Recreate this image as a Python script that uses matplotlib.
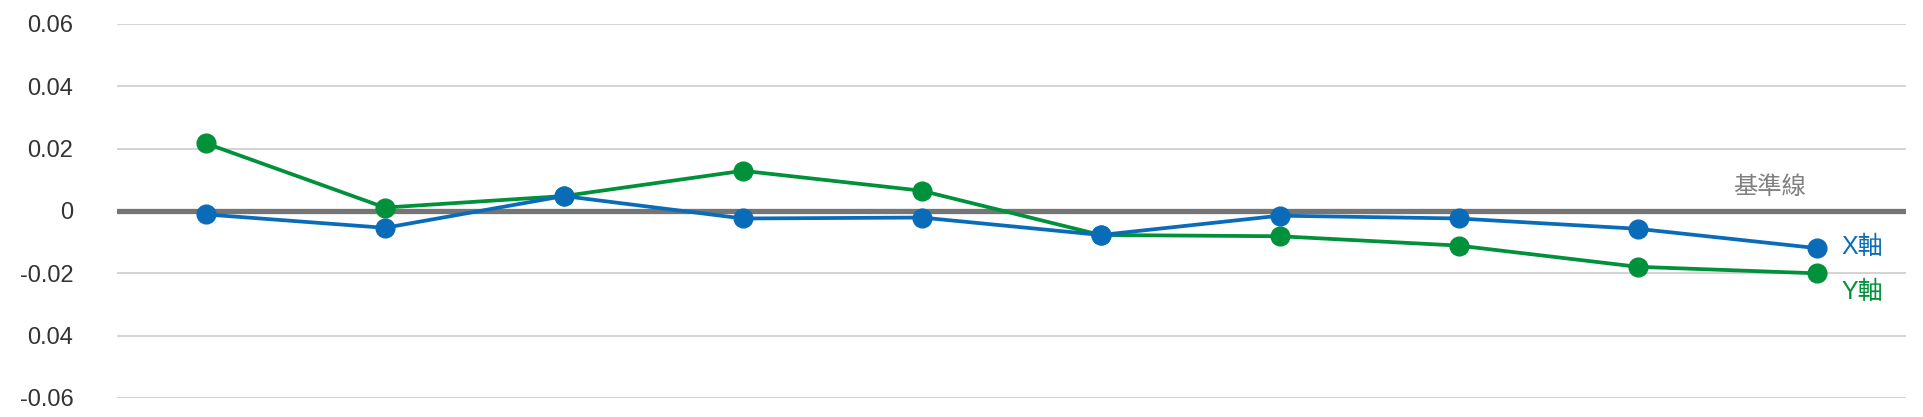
import matplotlib
matplotlib.use("Agg")
import matplotlib.pyplot as plt

plt.rcParams['font.family'] = ['Liberation Sans', 'Noto Sans CJK TC', 'DejaVu Sans']

# --- data ---
categories = list(range(1, 11))
x_axis = [-0.0011, -0.0054, 0.0048, -0.0024, -0.0021, -0.0077, -0.0015, -0.0024, -0.0057, -0.0119]
y_axis = [0.0217, 0.0011, 0.0048, 0.0129, 0.0065, -0.0077, -0.0081, -0.0111, -0.0179, -0.0200]
y_ticks = [0.06, 0.04, 0.02, 0, -0.02, -0.04, -0.06]
y_tick_labels = ['0.06', '0.04', '0.02', '0', '-0.02', '0.04', '-0.06']

BLUE = '#0a6cb8'
GREEN = '#00913a'
GRID = '#c8c8c8'
BASE = '#757575'

fig = plt.figure(figsize=(19.23, 4.17), dpi=100)
ax = fig.add_axes([116.5 / 1923, 1 - 398 / 417, (1906 - 116.5) / 1923, (398 - 24) / 417])

pos = list(range(len(categories)))
ax.set_xlim(-0.5, len(categories) - 0.5)
ax.set_ylim(-0.06, 0.06)

for t in y_ticks:
    if t == 0:
        ax.axhline(t, color=BASE, lw=3.8, zorder=1)
    else:
        ax.axhline(t, color=GRID, lw=1.1, zorder=0)

ax.plot(pos, y_axis, color=GREEN, lw=2.7, marker='o', ms=13.5, zorder=3, clip_on=False)
ax.plot(pos, x_axis, color=BLUE, lw=2.7, marker='o', ms=13.5, zorder=4, clip_on=False)

ax.set_yticks(y_ticks)
ax.set_yticklabels(y_tick_labels)
ax.tick_params(axis='y', length=0, pad=31, labelsize=17, labelcolor='#333333')
ax.set_xticks([])
for s in ax.spines.values():
    s.set_visible(False)

# series / baseline labels
ax.annotate('X軸', xy=(pos[-1], x_axis[-1]), xytext=(18, 0.5), textcoords='offset points',
            color=BLUE, fontsize=18, va='center', ha='left')
ax.annotate('Y軸', xy=(pos[-1], y_axis[-1]), xytext=(18, -13.5), textcoords='offset points',
            color=GREEN, fontsize=18, va='center', ha='left')
ax.annotate('基準線', xy=(pos[-1], 0), xytext=(-8, 17), textcoords='offset points',
            color='#808080', fontsize=17.5, va='center', ha='right')

fig.savefig('out.png', dpi=100, facecolor='white')
